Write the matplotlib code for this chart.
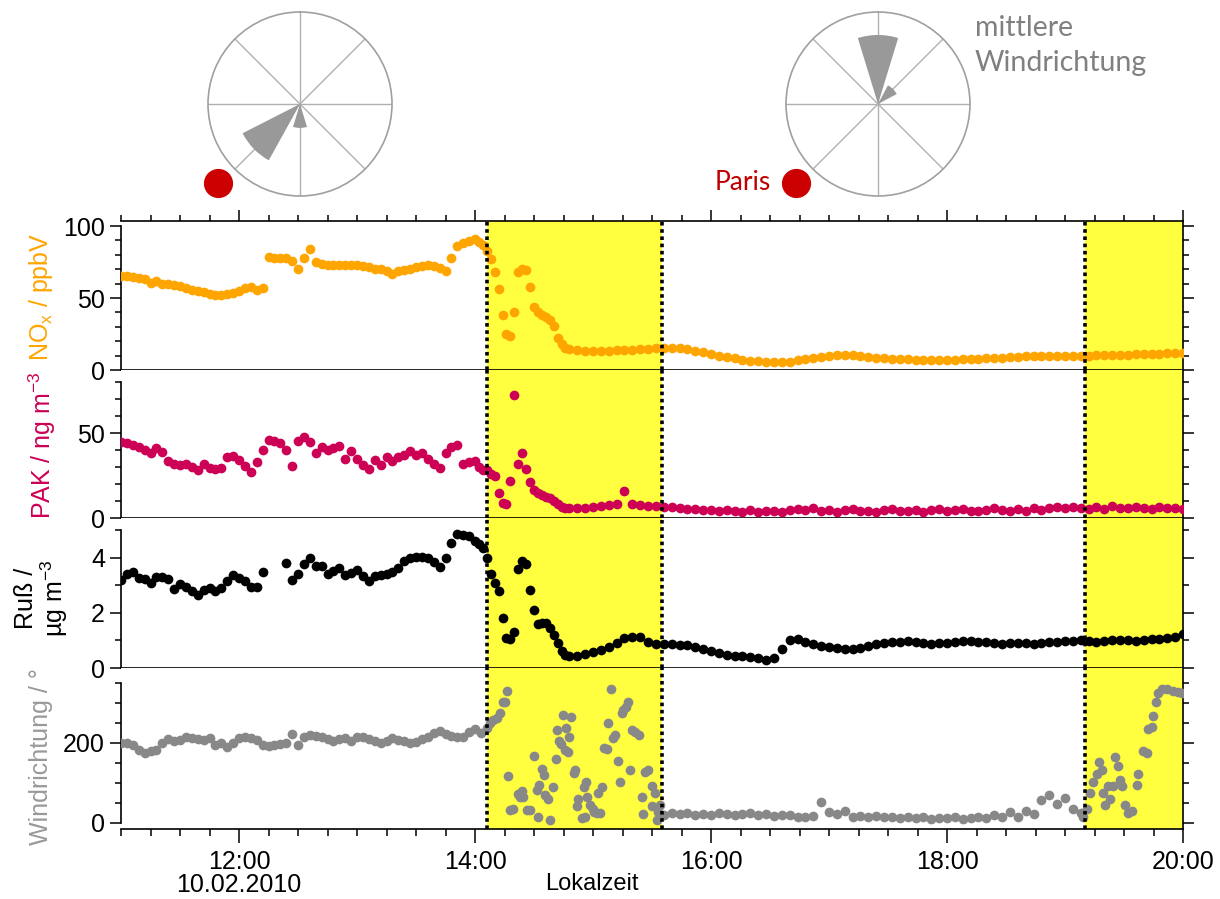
import numpy as np
import matplotlib
matplotlib.use("Agg")
import matplotlib.pyplot as plt
from matplotlib.ticker import FixedLocator, MultipleLocator

plt.rcParams['font.family'] = ['Liberation Sans', 'DejaVu Sans']
plt.rcParams['mathtext.default'] = 'regular'

# --- Messdaten 10.02.2010, Minuten nach 11:00 Lokalzeit ---
minutes = np.concatenate([np.arange(0, 181, 3),      # 11:00 - 14:00
                          np.arange(182, 229, 2),    # 14:02 - 14:48
                          np.arange(232, 541, 4)])   # 14:52 - 20:00

nox = [65.5, 65, 64.5, 63.8, 63, 60.5, 61.5, 60, 59.5, 59,
       58.5, 57, 55.5, 55, 54, 52.8, 52.3, 52, 52.8, 53.8,
       55, 57, 58, 55.5, 57, 78.5, 77.5, 78, 77.5, 75.5,
       70.5, 78, 84, 75, 73.5, 73, 73, 72.8, 73, 72.8,
       73, 72.5, 71.5, 70.3, 70.5, 68.5, 66.5, 68.5, 69.5, 70.5,
       71.5, 72, 73, 72.5, 71, 69, 78, 86, 88.5, 89.5,
       91,
       89, 86.5, 83, 77, 68, 56, 38, 25, 23.5, 40, 68, 70.5,
       69.5, 58, 44, 40, 38.5, 37, 34.5, 30.5, 22.5, 18, 15.5, 14.5,
       13.8, 13.3, 13.2, 13.1, 13.3, 13.6, 13.8, 14.2, 14.5, 14.8,
       15.2, 15.4, 15.5, 15.3, 14.5, 13.3, 12.2, 11, 10, 9,
       8, 7.2, 6.5, 6, 5.7, 5.4, 5.3, 5.8, 6.8, 7.6,
       8.4, 9.2, 9.7, 10.1, 10.4, 10.3, 9.8, 9, 8.5, 8.1,
       7.8, 7.6, 7.4, 7.2, 7.1, 7, 7, 7, 7.1, 7.3,
       7.5, 7.8, 8, 8.3, 8.6, 8.9, 9.2, 9.4, 9.6, 9.7,
       9.8, 9.8, 9.8, 9.8, 9.9, 10, 10.1, 10.2, 10.4, 10.5,
       10.6, 10.8, 11, 11.1, 11.3, 11.5, 11.6, 11.8]

pak = [45, 44, 43, 41.5, 40, 38.5, 41, 39, 33.5, 31.5,
       31, 31.5, 30, 28.5, 32, 29.5, 29, 29.5, 36, 36.5,
       34, 30.5, 27, 33, 40, 46, 45.5, 44, 40, 30.5,
       45.5, 47.5, 45, 38, 42, 40, 41, 42.5, 35, 39.5,
       35, 31, 29, 34, 31, 36, 33.5, 36, 37, 39.5,
       37, 38, 35, 31.5, 29.5, 38.5, 42, 43, 32, 33,
       33.5,
       30, 28, 28.5, 26, 24.5, 15, 9, 8, 22, 72.5, 32, 38,
       29, 21, 16.5, 15, 13.5, 12.6, 11.5, 10, 8, 6.5, 6, 5.8,
       5.8, 6, 6.2, 6.8, 7.5, 8, 16, 8, 7.6, 7.2,
       6.8, 6.5, 6.3, 5.8, 5.5, 5.2, 4.8, 5, 4.4, 4.6,
       4, 3.8, 4.5, 3.5, 3.9, 4.2, 3.6, 4.8, 5.2, 4.5,
       5.6, 4.2, 5, 3.8, 4.6, 5.4, 4, 4.4, 3.7, 4.8,
       5.5, 4.3, 4, 4.9, 3.8, 4.5, 5.2, 4.1, 4.6, 5.3,
       4.4, 3.9, 4.8, 5.6, 4.5, 4.2, 5.1, 4.4, 5.7, 4.8,
       5.9, 6.4, 5.8, 6.6, 5.9, 5.4, 6.2, 5.5, 6.8, 6.1,
       5.6, 6.4, 5.9, 5.5, 6.3, 5.7, 6.1, 5.2]

russ = [3.2, 3.4, 3.5, 3.28, 3.25, 3.1, 3.3, 3.32, 3.22, 2.88,
        3.05, 2.95, 2.78, 2.66, 2.85, 2.9, 2.8, 2.9, 3.15, 3.38,
        3.28, 3.15, 2.95, 2.95, 3.5, np.nan, np.nan, np.nan, 3.8, 3.2,
        3.42, 3.78, 3.98, 3.72, 3.7, 3.42, 3.52, 3.62, 3.38, 3.45,
        3.55, 3.35, 3.15, 3.35, 3.38, 3.4, 3.5, 3.65, 3.88, 4.0,
        4.05, 4.02, 4.0, 3.85, 3.68, 4.0, 4.55, 4.88, 4.85, 4.78,
        4.6,
        4.5, 4.35, 4.0, 3.4, 3.1, 2.8, 1.8, 1.1, 1.05, 1.3, 3.6, 3.9,
        3.78, 2.85, 2.1, 1.6, 1.65, 1.65, 1.45, 1.2, 0.9, 0.6, 0.48, 0.45,
        0.45, 0.5, 0.58, 0.65, 0.75, 0.92, 1.08, 1.12, 1.12, 0.95,
        0.88, 0.88, 0.86, 0.85, 0.82, 0.75, 0.68, 0.6, 0.55, 0.48,
        0.45, 0.42, 0.4, 0.36, 0.3, 0.38, 0.7, 1.0, 1.06, 0.95,
        0.88, 0.8, 0.76, 0.72, 0.68, 0.68, 0.74, 0.8, 0.86, 0.92,
        0.96, 0.95, 0.97, 0.94, 0.9, 0.88, 0.9, 0.92, 0.95, 0.97,
        0.98, 0.96, 0.93, 0.9, 0.88, 0.9, 0.92, 0.9, 0.88, 0.9,
        0.93, 0.95, 0.97, 0.99, 1.0, 0.98, 0.96, 0.98, 1.0, 1.02,
        1.0, 0.99, 1.03, 1.05, 1.04, 1.08, 1.14, 1.22]

# Windrichtung: eigene Zeitachse, in den gelben Phasen stark streuend
wind_min = (list(range(0, 187, 3)) +
            [187.6, 189.3, 191, 192.7, 194.1, 195.3, 196.1, 197, 197.8, 199.2,
             202, 202.9, 203.7, 204.6, 206.6, 208, 210, 211.4, 212.2, 212.7,
             213.9, 215.1, 215.6, 217.3, 218.1, 219.8, 221, 221.9, 222.7, 223.6,
             224.9, 225.8, 226.1, 227.1, 227.8, 228.8, 230.3, 230.8, 231.7, 232.5,
             234.2, 235.4, 235.9, 236.3, 236.8, 238.5, 239.8, 240.5, 241.9, 242.7,
             243.6, 244.4, 245.8, 246.9, 247.8, 249, 250, 251.2, 252.9, 253.7,
             254.6, 255.4, 256.6, 258, 258.8, 259.7, 261.4, 263.6, 264.7, 265.6,
             266.4, 268.1, 269.8, 270.2, 271.5, 272.4, 273.2, 274.1] +
            list(range(276, 489, 4)) +
            [489.3, 491, 492.7, 494.4, 496.1, 497.5, 498.6, 499.5, 500.3, 502,
             502.9, 504.6, 505.4, 507.1, 508, 508.9, 510.5, 512.2, 513.9, 516.4,
             517.3, 519.8, 521.5, 522.3, 524, 524.9, 526.2, 527.4, 529.1, 531.7,
             535.1, 537.6, 539.3])

wind = ([199, 201, 196, 182, 174, 180, 182, 200, 210, 204,
         208, 215, 212, 210, 208, 212, 196, 200, 190, 200,
         212, 214, 213, 207, 194, 192, 196, 198, 200, 222,
         196, 215, 220, 218, 214, 210, 206, 210, 212, 205,
         214, 216, 210, 206, 201, 206, 212, 208, 204, 200,
         203, 210, 216, 225, 230, 222, 218, 214, 216, 228,
         236, 224, 238] +
        [249, 258, 262, 276, 303, 303, 331, 117, 33, 36,
         72, 65, 79, 65, 33, 32, 167, 82, 14, 95,
         134, 120, 70, 59, 7, 89, 159, 232, 206, 197,
         270, 182, 237, 177, 214, 264, 126, 132, 42, 59,
         12, 91, 16, 103, 64, 45, 34, 28, 24, 76,
         24, 91, 188, 186, 249, 334, 212, 220, 156, 103,
         274, 282, 291, 303, 132, 232, 228, 220, 66, 22,
         128, 132, 43, 93, 76, 7, 28, 45] +
        [20, 24, 22, 25, 21, 23, 20, 24, 22, 19,
         23, 25, 21, 22, 18, 21, 19, 16, 14, 18,
         52, 28, 22, 30, 16, 18, 15, 17, 14, 16,
         13, 15, 12, 14, 11, 13, 12, 14, 11, 13,
         15, 12, 20, 14, 28, 16, 30, 22, 58, 70,
         48, 62, 35, 25] +
        [14, 35, 76, 102, 122, 153, 132, 76, 45, 92,
         60, 92, 164, 143, 107, 92, 45, 24, 30, 96,
         122, 179, 174, 236, 241, 267, 303, 324, 334, 336,
         331, 328, 324])

# Messphasen (gelb), Stunden
phases = [(14 + 6 / 60, 15 + 35 / 60), (19 + 10 / 60, 20.0)]

# Windrosen: Sektormitte (Grad), relative Haeufigkeit
rose1_dir = [226, 180]
rose1_len = [0.70, 0.26]
rose2_dir = [0, 45]
rose2_len = [0.75, 0.23]
sector_width = 34
paris_dir, paris_r = 226, 1.235

c_nox = '#FFA500'
c_pak = '#CC0055'
c_russ = 'black'
c_wind = '#888888'
c_yellow = '#FFFF40'

hours = 11 + minutes / 60.0
wind_hours = 11 + np.array(wind_min) / 60.0

fig = plt.figure(figsize=(12.2, 8.99), dpi=100)
W_PX, H_PX = 1220, 899
x0, x1 = 121, 1183


def box(top, bottom):
    return [x0 / W_PX, 1 - bottom / H_PX, (x1 - x0) / W_PX, (bottom - top) / H_PX]


ax_nox = fig.add_axes(box(221, 370))
ax_pak = fig.add_axes(box(370, 518))
ax_russ = fig.add_axes(box(518, 668))
ax_wind = fig.add_axes(box(668, 829))

panels = [
    (ax_nox, hours, nox, c_nox, (0, 103.5), (0, 100), [0, 50, 100], 10),
    (ax_pak, hours, pak, c_pak, (0, 87.1), (0, 80), [0, 50], 10),
    (ax_russ, hours, russ, c_russ, (0, 5.45), (0, 5), [0, 2, 4], 1),
    (ax_wind, wind_hours, wind, c_wind, (-15, 387.5), (0, 350), [0, 200], 50),
]

for ax, tx, vals, col, ylim, sb, major, minor in panels:
    for s, e in phases:
        ax.axvspan(s, e, color=c_yellow, lw=0, zorder=0)
    ax.plot(tx, vals, 'o', ms=7, mew=0, color=col, zorder=3)
    for s, e in phases:
        for xv in (s, e):
            if xv < 20:
                ax.axvline(xv, color='black', ls=(0, (1, 1)), lw=2.6, zorder=5)
    ax.set_xlim(11, 20)
    ax.set_ylim(*ylim)
    ax.yaxis.set_major_locator(FixedLocator(major))
    ax.yaxis.set_minor_locator(MultipleLocator(minor))
    ax.spines['left'].set_bounds(*sb)
    for sp in ax.spines.values():
        sp.set_linewidth(1.2)
        sp.set_color('black')
    ax.spines['top'].set_visible(False)
    ax.tick_params(axis='y', which='both', direction='out', left=True, right=True,
                   labelright=False, labelsize=18, width=1.1)
    ax.tick_params(axis='y', which='major', length=8)
    ax.tick_params(axis='y', which='minor', length=4)
    ax.tick_params(axis='x', which='both', bottom=False, top=False,
                   labelbottom=False, labeltop=False)
    ax.xaxis.set_major_locator(FixedLocator([12, 14, 16, 18, 20]))
    ax.xaxis.set_minor_locator(MultipleLocator(0.25))

# obere Zeitachse
ax_nox.spines['top'].set_visible(True)
ax_nox.tick_params(axis='x', which='both', top=True, direction='out', width=1.1)
ax_nox.tick_params(axis='x', which='major', length=8)
ax_nox.tick_params(axis='x', which='minor', length=4)

# untere Zeitachse mit Beschriftung
ax_wind.tick_params(axis='x', which='both', bottom=True, labelbottom=True,
                    direction='out', width=1.1, labelsize=18)
ax_wind.tick_params(axis='x', which='major', length=10, pad=5)
ax_wind.tick_params(axis='x', which='minor', length=5)
ax_wind.set_xticklabels(['12:00\n10.02.2010', '14:00', '16:00', '18:00', '20:00'])
for lab in ax_wind.get_xticklabels():
    lab.set_linespacing(0.95)

# Achsentitel
fig.text(41 / W_PX, 1 - 297 / H_PX, r'NO$_{x}$ / ppbV', rotation=90,
         ha='center', va='center', color=c_nox, fontsize=18)
fig.text(42 / W_PX, 1 - 445 / H_PX, r'PAK / ng m$^{-3}$', rotation=90,
         ha='center', va='center', color=c_pak, fontsize=18)
fig.text(42 / W_PX, 1 - 598 / H_PX, 'Ruß /\n' + r'µg m$^{-3}$', rotation=90,
         ha='center', va='center', color='black', fontsize=18, linespacing=1.0)
fig.text(41 / W_PX, 1 - 757 / H_PX, 'Windrichtung / °', rotation=90,
         ha='center', va='center', color='#999999', fontsize=18)
fig.text(592 / W_PX, 1 - 884 / H_PX, 'Lokalzeit', ha='center', va='center',
         fontsize=17)


# Windrosen
def rose(cx, cy, r, dirs, lens):
    ax = fig.add_axes([(cx - r) / W_PX, 1 - (cy + r) / H_PX, 2 * r / W_PX, 2 * r / H_PX],
                      projection='polar')
    ax.set_theta_zero_location('N')
    ax.set_theta_direction(-1)
    ax.set_ylim(0, 1)
    ax.set_xticks(np.radians(np.arange(0, 360, 45)))
    ax.set_xticklabels([])
    ax.set_yticks([])
    ax.xaxis.grid(True, color='#b0b0b0', lw=1.0)
    ax.spines['polar'].set_color('#a0a0a0')
    ax.spines['polar'].set_linewidth(1.2)
    ax.bar(np.radians(dirs), lens, width=np.radians(sector_width), bottom=0,
           color='#999999', lw=0, zorder=3)
    ax.plot(np.radians(paris_dir), paris_r, 'o', ms=20, color='#CC0000',
            clip_on=False, zorder=4)
    return ax


rose(300, 104, 92, rose1_dir, rose1_len)
ax_r2 = rose(878, 104, 92, rose2_dir, rose2_len)
ax_r2.annotate('Paris', (np.radians(paris_dir), paris_r), xytext=(-25, 0),
               textcoords='offset pixels', ha='right', va='center',
               color='#C00000', fontsize=19, family=['Lato', 'DejaVu Sans'],
               annotation_clip=False)

fig.text(975 / W_PX, 1 - 15 / H_PX, 'mittlere\nWindrichtung', ha='left', va='top',
         color='#808080', fontsize=20.5, family=['Lato', 'DejaVu Sans'],
         linespacing=1.45)

fig.savefig('out.png', dpi=100)
